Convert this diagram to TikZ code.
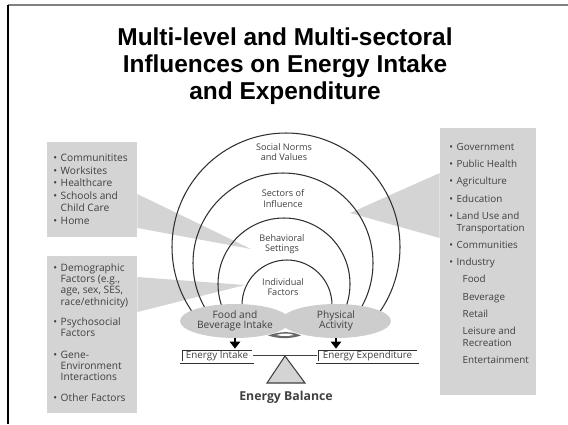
\documentclass[tikz,border=0pt]{standalone}
\usepackage{fontspec}
\setmainfont{Liberation Sans}
\newfontfamily\diagfont{Open Sans}
\usetikzlibrary{arrows.meta,shapes.geometric}

\definecolor{panelgray}{HTML}{D4D4D4}
\definecolor{ovalgray}{HTML}{CDCDCD}
\definecolor{inkgray}{HTML}{404040}
\definecolor{ringgray}{HTML}{303030}

\newcommand{\bul}{\makebox[4.2pt][l]{\textbullet}}
\newcommand{\hang}{\hspace*{4.2pt}}
\newcommand{\sub}{\hspace*{7.6pt}}

\tikzset{
  panel/.style={rectangle, fill=panelgray, inner sep=0pt},
  wedge/.style={fill=panelgray},
  listtext/.style={anchor=north west, align=left, inner sep=0pt, text=inkgray},
  ring/.style={draw=ringgray, line width=0.6pt},
  ringlabel/.style={align=center, inner sep=0pt, text=inkgray,
    font=\diagfont\fontsize{5.2}{6}\selectfont},
  oval/.style={ellipse, fill=ovalgray, minimum width=2.2cm, minimum height=0.68cm,
    inner sep=0pt, align=center, text=inkgray, font=\diagfont\fontsize{5.8}{6}\selectfont},
  energybox/.style={rectangle, draw=ringgray, double=white, double distance=0.8pt,
    line width=0.45pt, minimum height=0.26cm, inner sep=0pt, text=inkgray,
    font=\diagfont\fontsize{5.6}{6}\selectfont},
  pusharrow/.style={-{Triangle[width=6pt,length=4pt]}, line width=0.8pt, black},
}

\begin{document}
\begin{tikzpicture}[x=0.02cm, y=-0.02cm]
\useasboundingbox (0,0) rectangle (568,424);

% slide frame
\draw[gray, line width=0.85pt] (8,5) -- (568,5);
\draw[black, line width=0.6pt] (8,5) -- (8,424);

\node[font=\bfseries\fontsize{13.9}{15.3}\selectfont, align=center, anchor=north, inner sep=0pt] (title) at (285,27.5)
  {Multi-level and Multi-sectoral\\Influences on Energy Intake\\and Expenditure};

% side panels
\node[panel, minimum width=1.8cm, minimum height=1.9cm] (settingsbox) at (92,189.5) {};
\node[panel, minimum width=1.8cm, minimum height=3.14cm] (individualbox) at (92,334.5) {};
\node[panel, minimum width=1.92cm, minimum height=5.34cm] (sectorsbox) at (488,261.5) {};

% callout wedges
\fill[wedge] (settingsbox.east |- 0,194) -- (251,249) -- (settingsbox.east |- 0,228) -- cycle;
\fill[wedge] (individualbox.east |- 0,277) -- (245,285) -- (individualbox.east |- 0,312) -- cycle;
\fill[wedge] (sectorsbox.west |- 0,173) -- (350,213) -- (sectorsbox.west |- 0,238) -- cycle;

\node[listtext, font=\diagfont\fontsize{5.8}{7.1}\selectfont] (settingslist) at (53,154)
  {\bul Communitites\\ \bul Worksites\\ \bul Healthcare\\ \bul Schools and\\ \hang Child Care\\ \bul Home};
\node[listtext, font=\diagfont\fontsize{5.8}{6.5}\selectfont] (individuallist) at (53,263)
  {\bul Demographic\\ \hang Factors (e.g.,\\ \hang age, sex, SES,\\ \hang race/ethnicity)\\[5pt]
   \bul Psychosocial\\ \hang Factors\\[5.5pt]
   \bul Gene-\\ \hang Environment\\ \hang Interactions\\[5.5pt]
   \bul Other Factors};
\node[listtext, font=\diagfont\fontsize{5.6}{6.8}\selectfont] (sectorslist) at (449,143)
  {\bul Government\\[3pt] \bul Public Health\\[3pt] \bul Agriculture\\[3pt] \bul Education\\[3pt]
   \bul Land Use and\\ \hang Transportation\\[3pt] \bul Communities\\[3pt] \bul Industry\\[3pt]
   \sub Food\\[3pt] \sub Beverage\\[3pt] \sub Retail\\[3pt] \sub Leisure and\\ \sub Recreation\\[3pt]
   \sub Entertainment};

% nested rings
\begin{scope}
\clip (0,0) rectangle (568,322);
\draw[ring] (286,247) circle [radius=114];
\draw[ring] (283,263) circle [radius=90];
\draw[ring] (284,284) circle [radius=66];
\draw[ring] (287,305) circle [radius=45];
\end{scope}

\node[ringlabel] (norms) at (284,152) {Social Norms\\and Values};
\node[ringlabel] (sectors) at (283,198.5) {Sectors of\\Influence};
\node[ringlabel] (settings) at (282,244) {Behavioral\\Settings};
\node[ringlabel] (individual) at (283,287) {Individual\\Factors};

\node[oval] (food) at (235,321) {Food and\\Beverage Intake};
\node[oval] (activity) at (336,321) {Physical\\Activity};
\fill[inkgray!80] (268,335.5) .. controls (280,331) and (292,331) .. (301,335.5)
  .. controls (290,339) and (279,339) .. (268,335.5) -- cycle;
\fill[white] (276,335) .. controls (283,333) and (289,333) .. (294,335)
  .. controls (288,336.3) and (282,336.3) .. (276,335) -- cycle;

% balance
\node[energybox, minimum width=1.44cm] (intake) at (217,355.5) {Energy Intake};
\node[energybox, minimum width=2.02cm] (expenditure) at (367.5,355.5) {Energy Expenditure};
\draw[pusharrow] (food.south) -- (food.south |- intake.north);
\draw[pusharrow] (activity.south) -- (activity.south |- expenditure.north);
\draw[inkgray, line width=0.6pt] (intake.east) -- (expenditure.west);
\coordinate (pivot) at (285,356);
\filldraw[fill=panelgray, draw=inkgray, line width=0.6pt] (pivot) -- (267,383) -- (305,383) -- cycle;
\node[font=\diagfont\bfseries\fontsize{7}{8}\selectfont, text=inkgray] (balance) at (286,397) {Energy Balance};
\end{tikzpicture}
\end{document}
